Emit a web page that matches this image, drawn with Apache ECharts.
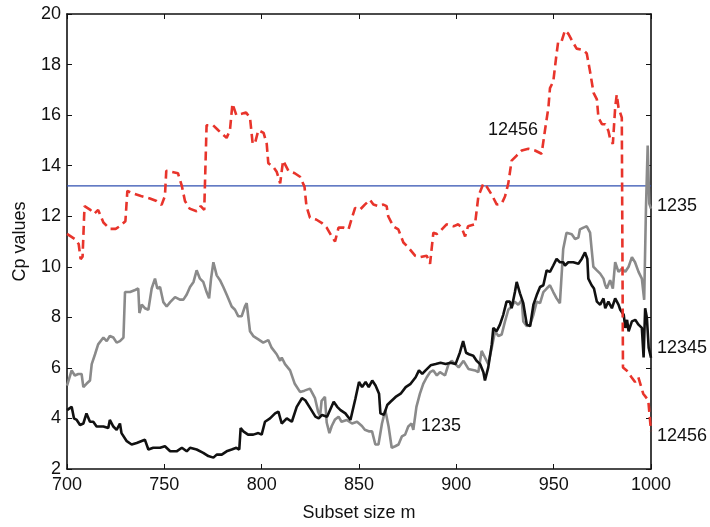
<!DOCTYPE html>
<html><head><meta charset="utf-8">
<script src="https://cdn.jsdelivr.net/npm/echarts@6/dist/echarts.min.js"></script>
<style>html,body{margin:0;padding:0;background:#fff}#c{width:710px;height:527px}</style>
</head><body><div id="c"></div>
<script>
// Subset size m (x) and Cp values (y) per subset
const redX = [700,704,706,707,708,709,712,714,716,718.7,722,725,727,730,731,734,738,742.6,746,748.6,750.3,751,754,757,759,760.6,763,766.6,768.7,770.5,771.7,775,777.7,782,783.7,785,787,789.7,792,794,795.4,796.6,798.3,801,802.6,803.4,806,807.7,809.5,811,813.7,817,819.7,822,823,824.8,828,830.8,833.4,836,837.7,839.5,842,844.6,846.4,848,850.5,853,855.6,857.4,860,862.5,864.2,865,867.6,870.2,872.8,875.3,878.8,881.3,884.8,886.5,887.3,888.2,890,891.6,895,898.5,901,902.7,904.5,906,909.6,910.5,911.3,913.9,915.6,918.2,920.8,923.3,925,926.7,928.4,931,933.6,937,940.4,943.8,945.5,947.3,948.1,949.8,951.2,952.3,954,955.8,957.5,959.3,961.8,965.3,967,968.7,970.5,972.2,973,974.8,976.5,978.1,979,980.4,981.6,982.4,983.3,985,985.6,987.5,990,991.8,993.5,996,998.6,1000];
const redY = [11.3,11.1,10.9,10.3,10.4,12.4,12.25,12.1,12.25,11.75,11.5,11.5,11.6,11.8,13.0,12.9,12.8,12.7,12.6,12.45,12.8,13.8,13.75,13.7,13.2,12.6,12.3,12.2,12.4,12.25,15.6,15.6,15.4,15.1,15.4,16.45,16.0,16.05,16.1,15.9,14.86,14.9,15.4,15.3,14.86,14.1,13.95,13.76,13.3,14.2,13.8,13.7,13.56,13.17,12.4,11.94,11.87,11.74,11.55,11.2,11.0,11.55,11.55,11.48,11.94,12.33,12.26,12.46,12.65,12.46,12.4,12.46,12.4,12.0,11.6,11.48,10.96,10.77,10.44,10.38,10.44,10.12,10.7,11.35,11.3,11.4,11.68,11.6,11.68,11.55,11.2,11.6,11.68,12.26,12.78,13.3,13.17,12.85,12.46,12.5,12.78,13.3,14.2,14.4,14.6,14.67,14.6,14.47,15.38,16.3,17.07,17.33,18.24,18.9,18.9,19.35,19.22,18.96,18.63,18.57,18.44,17.72,16.88,16.62,15.9,15.64,15.64,15.38,15.06,14.86,16.3,16.81,16.3,15.9,6.02,5.9,5.63,5.44,5.63,4.98,4.72,3.5];

const grayX = [700,702.4,704,705.8,707.5,708.4,710,711.8,712.7,714.4,716,717,718.7,720.4,722,723.8,725.5,727.2,729,729.8,732.4,735,736.6,737.2,738.4,740,741.8,743.5,745.2,746.4,747.8,749.5,751.2,753,755.5,758,759.8,761.5,763.2,765,766.6,768.3,770,771.7,773,774,775.2,776.9,778.6,780.3,782,784.6,786.3,788,789.7,791.4,792.3,794,795.7,798.3,800.8,803.4,805.1,807.7,809.5,810.3,812,814.6,817,819.7,822,824.8,827.4,829,830,830.8,832.5,833.4,834.8,836,837.7,839.5,841,843.7,846.4,849,851.5,853,855,856.7,858.4,860,861.8,863.5,865.2,866.8,868.6,870.3,872,873.7,875.3,877,877.9,879.5,881.3,883,884.8,886.5,888.2,890,891.6,894.2,896,897.6,899.5,901.2,903.7,906.2,909.6,911.3,913,914.7,916.4,918.2,919.9,921.6,923.3,925,926.7,928.4,930,931.8,933.6,934.4,936.2,937.9,939.6,941.3,943,944.7,946.4,948.1,949.8,951.5,953.2,954.9,956.6,959.3,961,962.7,963.5,965.3,967,968.7,969.5,970.4,972.2,973.9,975.6,976.5,977.3,979,980.4,981.6,983.3,985,986.8,988.5,990.2,991.8,993.6,995.3,996.5,997.4,998.3,999.1,1000];
const grayY = [5.3,5.9,5.7,5.76,5.76,5.24,5.37,5.5,6.15,6.54,6.93,6.87,7.2,7.06,7.26,7.2,7.0,7.06,7.2,9.0,9.0,9.08,9.14,8.17,8.5,8.36,8.3,9.14,9.53,9.14,9.2,8.6,8.43,8.6,8.8,8.7,8.7,8.9,9.2,9.4,9.86,9.53,9.4,9.0,8.75,9.53,10.18,9.66,9.47,9.2,8.9,8.43,8.3,8.04,8.04,8.43,8.56,7.45,7.26,7.13,7.0,7.1,6.8,6.54,6.28,6.41,6.15,5.9,5.37,5.05,5.1,5.18,4.8,4.27,4.1,4.7,4.85,3.84,3.42,3.7,3.96,4.07,3.87,3.94,3.8,3.87,3.7,3.55,3.49,3.49,2.97,2.97,3.8,4.33,3.68,2.84,2.9,2.97,3.29,3.36,3.68,3.8,3.55,4.46,4.98,5.37,5.63,5.83,5.9,5.7,5.83,5.7,6.15,6.28,6.15,6.02,6.28,5.96,5.9,5.83,6.67,6.41,6.15,6.8,7.45,7.26,7.32,7.84,8.3,8.43,8.62,8.5,8.69,7.84,7.65,7.71,8.1,8.62,8.56,9.0,9.14,9.27,9.0,8.75,8.56,10.7,11.35,11.29,11.1,11.16,11.48,11.55,11.6,11.35,10.7,10.0,9.86,9.73,9.53,9.27,9.14,9.47,9.14,10.18,9.8,9.92,9.8,10.0,10.38,10.18,9.8,9.53,8.69,12.26,14.8,12.5,12.3];

const blackX = [700,702.4,703.6,705,706.7,708.4,710,711.8,713.5,715.2,718.7,721.2,722,723.8,725.5,727.2,728,730.7,733.2,735.8,740,741.8,744.3,747.8,750.3,753,756.3,759,761.5,763.2,766.6,770,772.6,775.2,776.9,779.5,782,784.6,787,788.5,789.2,790.6,793,795.7,798.3,800,801.7,804.3,806.9,808.6,810.3,812.9,815.5,818,820.7,822.4,825,827.6,829.3,831,833.6,837,838.8,840.5,843,845.6,848.2,850,851.6,853.4,855,856.8,858.5,860.3,861,862.8,864.5,866.2,868.8,871.4,874,876.5,879.1,880.8,882.5,884.2,886.8,889.4,891.9,894.5,897,899.6,901.8,903.5,905,906.5,908.7,910.4,912.2,913.9,914.7,916.4,918.2,919,920.7,922.4,924.1,925.8,927.5,928.4,930.1,931,932.7,934.4,936.2,937.9,939.6,941.3,943,944.7,946.4,948.1,949.8,951.5,953.2,954.9,955.8,957.5,960.1,962.7,964.4,966.1,967.3,967.8,969.5,970.7,972.2,973.9,975.6,976.5,978.1,979.9,981.6,983.3,984.2,986,986.8,987.7,988.5,990.2,991.9,993.6,995.3,996.2,997,997.9,998.8,1000];
const blackY = [4.33,4.46,4.0,3.94,3.74,3.8,4.2,3.87,3.87,3.68,3.68,3.62,3.94,3.68,3.55,3.8,3.42,3.1,2.97,3.03,3.16,2.77,2.84,2.84,2.9,2.7,2.7,2.84,2.7,2.84,2.77,2.64,2.51,2.45,2.57,2.57,2.7,2.77,2.84,2.77,3.62,3.49,3.36,3.36,3.42,3.36,3.87,4.0,4.2,4.27,3.8,4.0,3.87,4.46,4.8,4.72,4.4,4.07,4.0,4.14,4.07,4.66,4.46,4.33,4.2,3.94,4.8,5.44,5.24,5.44,5.24,5.5,5.3,4.98,4.2,4.14,4.53,4.66,4.85,4.98,5.24,5.37,5.63,5.9,5.76,5.9,6.1,6.15,6.2,6.15,6.2,6.15,6.6,7.06,6.6,6.54,6.48,6.28,6.15,5.83,5.5,6.02,6.93,7.58,7.45,7.71,8.1,8.62,8.62,8.36,9.0,9.4,8.95,8.56,7.71,7.65,8.5,8.88,9.2,9.27,9.86,9.8,10.05,10.31,10.18,10.18,10.05,10.18,10.18,10.12,10.31,10.57,10.31,9.53,9.27,9.14,8.62,8.5,8.75,8.36,8.62,8.36,8.75,8.5,8.3,8.1,7.58,7.9,7.45,7.84,7.9,7.71,7.58,6.41,8.36,7.97,6.8,6.4];

// Horizontal reference line
const refX = [700, 1000];
const refY = [13.2, 13.2];

const xTicks = {min: 700, max: 1000, step: 50};
const yTicks = {min: 2, max: 20, step: 2};

const pairs = (xs, ys) => xs.map((x, i) => [x, ys[i]]);
const FONT = '"Liberation Sans", Arial, Helvetica, sans-serif';
const axisLine = {show: true, lineStyle: {color: '#111', width: 1.6}};
const tick = {show: true, inside: true, length: 5, lineStyle: {color: '#111', width: 1}};
const lbl = {color: '#111', fontSize: 18, fontFamily: FONT};

const chart = echarts.init(document.getElementById('c'), null, {renderer: 'canvas'});
chart.setOption({
  animation: false,
  backgroundColor: '#fff',
  grid: {left: 67, right: 59, top: 14, bottom: 53},
  xAxis: [
    {type: 'value', min: xTicks.min, max: xTicks.max, interval: xTicks.step, position: 'bottom',
     axisLine, axisTick: tick, splitLine: {show: false},
     axisLabel: Object.assign({margin: 7, formatter: v => String(v)}, lbl),
     name: 'Subset size m', nameLocation: 'middle', nameGap: 35,
     nameTextStyle: {color: '#111', fontSize: 18, fontFamily: FONT}},
    {type: 'value', min: xTicks.min, max: xTicks.max, interval: xTicks.step, position: 'top',
     axisLine, axisTick: tick, splitLine: {show: false}, axisLabel: {show: false}}
  ],
  yAxis: [
    {type: 'value', min: yTicks.min, max: yTicks.max, interval: yTicks.step, position: 'left',
     axisLine, axisTick: tick, splitLine: {show: false},
     axisLabel: Object.assign({margin: 6}, lbl),
     name: 'Cp values', nameLocation: 'middle', nameGap: 38,
     nameTextStyle: {color: '#111', fontSize: 18, fontFamily: FONT}},
    {type: 'value', min: yTicks.min, max: yTicks.max, interval: yTicks.step, position: 'right',
     axisLine, axisTick: tick, splitLine: {show: false}, axisLabel: {show: false}}
  ],
  series: [
    {name: 'ref', type: 'line', data: pairs(refX, refY), showSymbol: false, symbol: 'none',
     lineStyle: {color: '#2f4fb0', width: 1.2}, z: 1, silent: true},
    {name: '1235', type: 'line', data: pairs(grayX, grayY), showSymbol: false, symbol: 'none',
     lineStyle: {color: '#8a8a8a', width: 2.6}, z: 2},
    {name: '12345', type: 'line', data: pairs(blackX, blackY), showSymbol: false, symbol: 'none',
     lineStyle: {color: '#111', width: 2.6}, z: 3},
    {name: '12456', type: 'line', data: pairs(redX, redY), showSymbol: false, symbol: 'none',
     lineStyle: {color: '#e8342b', width: 2.6, type: [9, 5]}, z: 4}
  ],
  graphic: [
    {type: 'text', left: 488, top: 121, style: {text: '12456', fill: '#111', font: '18px ' + FONT}},
    {type: 'text', left: 421, top: 417, style: {text: '1235', fill: '#111', font: '18px ' + FONT}},
    {type: 'text', left: 657, top: 197, style: {text: '1235', fill: '#111', font: '18px ' + FONT}},
    {type: 'text', left: 657, top: 339, style: {text: '12345', fill: '#111', font: '18px ' + FONT}},
    {type: 'text', left: 657, top: 427, style: {text: '12456', fill: '#111', font: '18px ' + FONT}}
  ]
});
</script>
</body></html>
